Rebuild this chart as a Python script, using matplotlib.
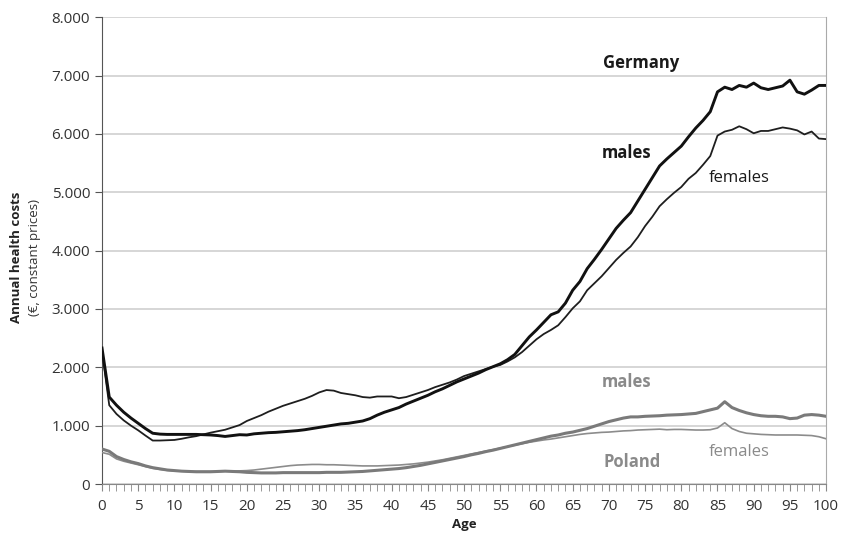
import matplotlib.pyplot as plt
from matplotlib.ticker import FuncFormatter, MultipleLocator

plt.rcParams["font.family"] = ["Open Sans", "DejaVu Sans"]

ages = list(range(0, 101))

germany_males = [
    2330, 1490, 1350, 1230, 1130, 1040, 950, 870, 855, 850,
    850, 850, 850, 850, 845, 840, 830, 815, 830, 845,
    840, 860, 870, 880, 885, 895, 905, 915, 930, 950,
    970, 990, 1010, 1030, 1040, 1060, 1080, 1120, 1180, 1230,
    1270, 1310, 1370, 1420, 1470, 1520, 1580, 1630, 1690, 1750,
    1800, 1850, 1900, 1960, 2010, 2060, 2130, 2220, 2370, 2520,
    2640, 2770, 2900, 2950, 3100, 3320, 3470, 3690, 3850, 4020,
    4200, 4380, 4520, 4650, 4850, 5050, 5250, 5450, 5570, 5680,
    5790, 5950, 6100, 6230, 6380, 6720, 6800, 6760, 6830, 6800,
    6870, 6790, 6760, 6790, 6820, 6920, 6720, 6680, 6750, 6830,
    6830,
]

germany_females = [
    2280, 1350, 1200, 1090, 1000, 920, 830, 745, 745, 750,
    755, 775, 800, 820, 850, 880, 905, 930, 970, 1010,
    1080, 1130, 1180, 1240, 1290, 1340, 1380, 1420, 1460, 1510,
    1570, 1610, 1600, 1560, 1540, 1520, 1490, 1480, 1500, 1500,
    1500, 1470, 1490, 1530, 1570, 1610, 1660, 1700, 1740, 1790,
    1850, 1890, 1930, 1970, 2010, 2040, 2100, 2170, 2260, 2370,
    2480, 2570, 2640, 2720, 2860, 3010, 3130, 3320, 3440, 3560,
    3700, 3840, 3960, 4070, 4230, 4420, 4580, 4760, 4880, 4990,
    5090, 5230, 5330, 5470, 5620, 5970, 6040, 6070, 6130, 6080,
    6010, 6050, 6050, 6080, 6110, 6090, 6060, 5990, 6040, 5920,
    5910,
]

poland_males = [
    600, 560, 470, 420, 380, 350, 310, 280, 260, 240,
    230, 220, 215, 210, 210, 210, 215, 220, 215, 210,
    200, 195, 190, 190, 190, 195, 195, 195, 195, 195,
    195, 200, 200, 200, 205, 210, 215, 225, 235, 245,
    255, 265, 280, 300, 320, 345, 370, 395, 420, 445,
    470, 500, 525, 555, 580, 610, 640, 670, 700, 730,
    760, 790, 820, 840, 870, 890, 920, 950, 990, 1030,
    1070, 1100, 1130, 1150, 1150, 1160, 1165, 1170, 1180, 1185,
    1190, 1200, 1210, 1240, 1270, 1300, 1410, 1310, 1260, 1220,
    1190, 1170, 1160, 1160, 1150, 1120, 1130, 1180, 1190, 1180,
    1160,
]

poland_females = [
    540, 510, 430, 390, 360, 330, 300, 270, 250, 235,
    225, 220, 215, 215, 215, 215, 215, 220, 220, 225,
    230, 240, 255, 270, 285, 300, 315, 325, 330, 335,
    335, 330, 330, 325, 320, 315, 310, 310, 310, 315,
    320, 325, 335, 345, 360, 375, 395, 415, 440, 465,
    490, 515, 540, 565, 590, 615, 640, 665, 690, 715,
    735, 755, 770, 790, 810, 830, 850, 865, 875, 885,
    890, 900, 910, 915, 925, 930, 935, 940, 930, 935,
    935, 930, 925, 925, 930, 960, 1050, 950, 900, 870,
    860, 850, 845, 840, 840, 840, 840, 835, 830, 810,
    775,
]

fig = plt.figure(figsize=(8.41, 5.36), dpi=100)
ax = fig.add_axes([0.1213, 0.097, 0.861, 0.871])

ax.plot(ages, poland_females, color="#8c8c8c", lw=1.2, zorder=3)
ax.plot(ages, poland_males, color="#7a7a7a", lw=2.2, zorder=3)
ax.plot(ages, germany_females, color="#1e1e1e", lw=1.3, zorder=4)
ax.plot(ages, germany_males, color="#111111", lw=2.1, zorder=4)

ax.set_xlim(0, 100)
ax.set_ylim(0, 8000)
ax.xaxis.set_major_locator(MultipleLocator(5))
ax.xaxis.set_minor_locator(MultipleLocator(1))
ax.yaxis.set_major_locator(MultipleLocator(1000))
ax.yaxis.set_major_formatter(FuncFormatter(lambda v, p: f"{int(v):,}".replace(",", ".")))

ax.grid(axis="y", color="#cfcfcf", lw=1.2, zorder=0)
ax.set_axisbelow(True)

ax.spines["top"].set_visible(False)
ax.spines["left"].set_color("#555555")
ax.spines["bottom"].set_color("#888888")
ax.spines["right"].set_color("#aaaaaa")
ax.tick_params(axis="x", which="both", direction="out", length=5, color="#888888",
               labelsize=11, labelcolor="#333333", pad=6)
ax.tick_params(axis="y", direction="out", length=5, color="#555555",
               labelsize=11, labelcolor="#333333")

ax.set_xlabel("Age", fontsize=9.5, fontweight="bold", color="#222222", labelpad=3)
fig.text(0.020, 0.52, "Annual health costs", rotation=90, ha="center", va="center",
         fontsize=9.5, fontweight="bold", color="#222222")
fig.text(0.041, 0.52, "(€, constant prices)", rotation=90, ha="center", va="center",
         fontsize=9.5, color="#333333")

ax.text(74.4, 7210, "Germany", fontsize=12, fontweight="bold", color="#1a1a1a", ha="center", va="center")
ax.text(72.5, 5680, "males", fontsize=12, fontweight="bold", color="#1a1a1a", ha="center", va="center")
ax.text(88, 5240, "females", fontsize=12, color="#1a1a1a", ha="center", va="center")
ax.text(72.5, 1750, "males", fontsize=12, fontweight="bold", color="#8a8a8a", ha="center", va="center")
ax.text(88, 550, "females", fontsize=12, color="#8a8a8a", ha="center", va="center")
ax.text(73.2, 380, "Poland", fontsize=12, fontweight="bold", color="#8a8a8a", ha="center", va="center")

fig.savefig("out.png", dpi=100)
